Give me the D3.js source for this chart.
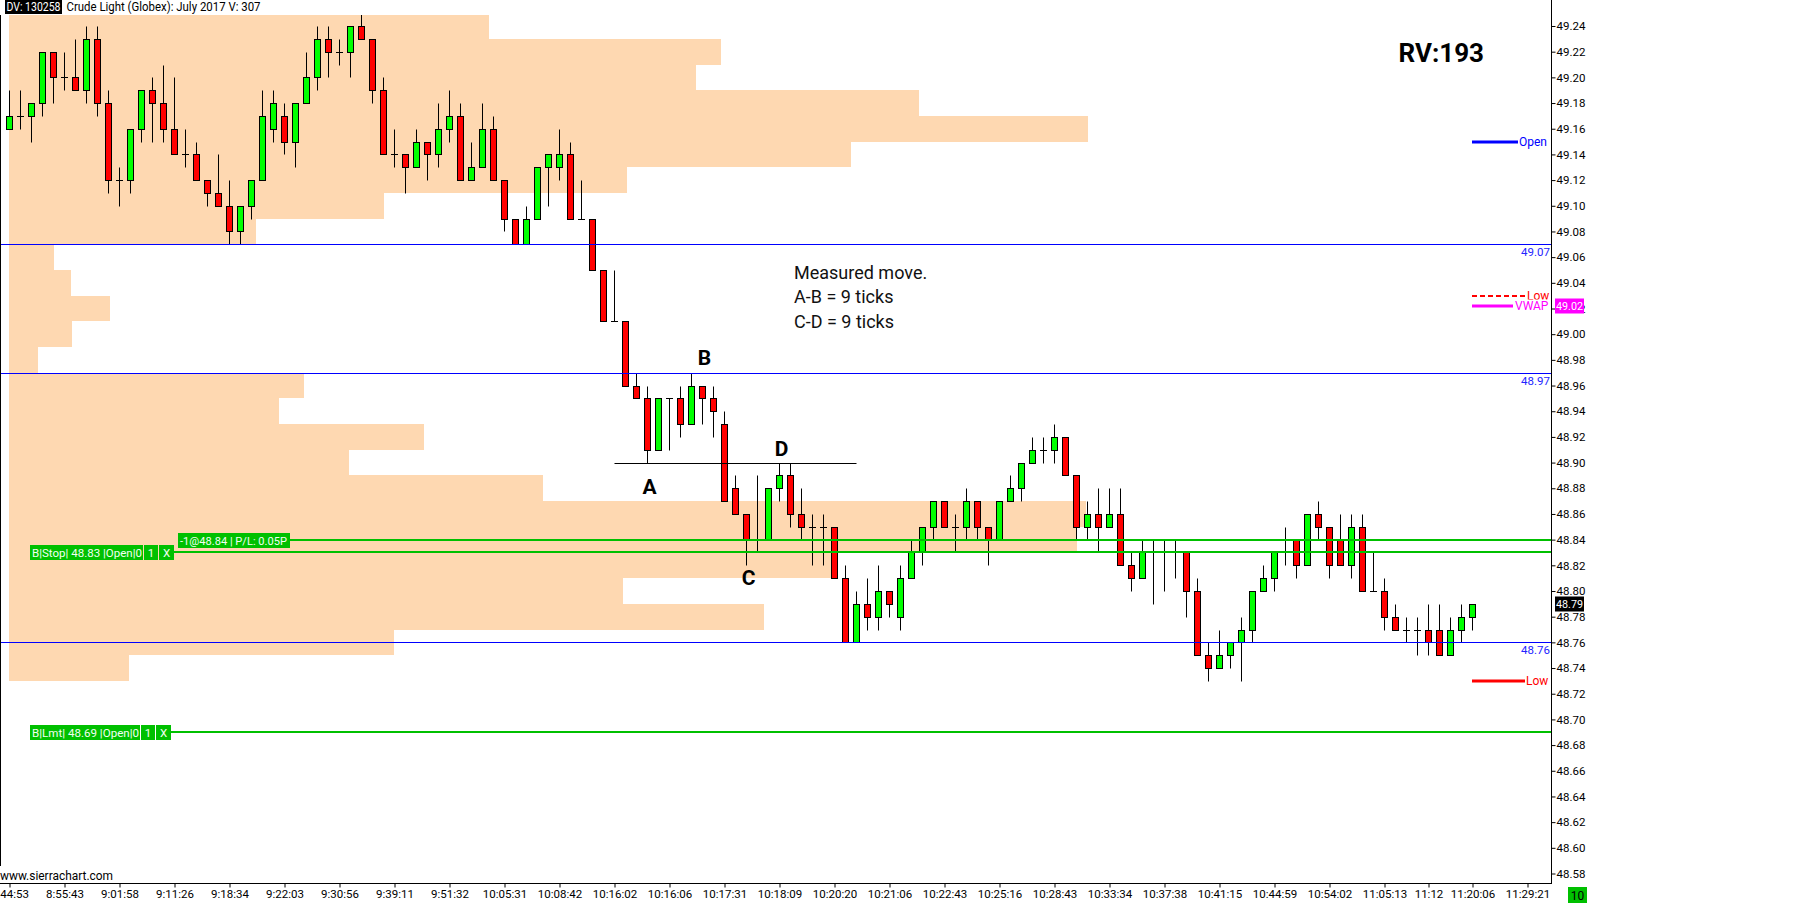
<!DOCTYPE html>
<html><head><meta charset="utf-8">
<script src="https://cdn.jsdelivr.net/npm/d3@7/dist/d3.min.js"></script>
<style>
html,body{margin:0;padding:0;background:#fff;}
svg{display:block;}
text{font-family:Roboto,"Liberation Sans",sans-serif;}
</style></head><body>
<svg id="c" width="1820" height="903"></svg>
<script>
// ---------- DATA ----------
const openP  = [49.16,49.17,49.17,49.18,49.22,49.20,49.20,49.19,49.23,49.18,49.12,49.12,49.16,49.19,49.18,49.16,49.14,49.14,49.12,49.11,
                49.10,49.08,49.10,49.12,49.16,49.17,49.15,49.18,49.20,49.23,49.22,49.22,49.24,49.23,49.19,49.14,49.14,49.13,49.15,49.14,
                49.16,49.17,49.12,49.13,49.16,49.12,49.09,49.07,49.09,49.13,49.13,49.14,49.09,49.09,49.05,49.01,49.01,48.96,48.95,48.91,
                48.95,48.95,48.93,48.96,48.95,48.93,48.88,48.86,48.84,48.84,48.88,48.89,48.86,48.85,48.85,48.85,48.81,48.76,48.79,48.78,
                48.80,48.78,48.81,48.83,48.85,48.87,48.85,48.85,48.87,48.85,48.84,48.87,48.88,48.90,48.91,48.91,48.92,48.89,48.85,48.86,
                48.85,48.86,48.82,48.81,48.83,48.83,48.83,48.83,48.80,48.75,48.74,48.75,48.76,48.77,48.80,48.81,48.84,48.84,48.82,48.86,
                48.85,48.84,48.82,48.85,48.80,48.80,48.78,48.77,48.77,48.77,48.77,48.75,48.77,48.78];
const highP  = [49.19,49.19,49.18,49.22,49.22,49.22,49.23,49.24,49.24,49.19,49.13,49.16,49.19,49.20,49.21,49.20,49.16,49.15,49.12,49.14,
                49.12,49.10,49.12,49.19,49.19,49.18,49.18,49.22,49.24,49.24,49.23,49.24,49.25,49.23,49.20,49.16,49.14,49.16,49.15,49.18,
                49.19,49.18,49.15,49.18,49.17,49.12,49.09,49.10,49.13,49.14,49.16,49.15,49.12,49.09,49.05,49.05,49.01,48.97,48.96,48.95,
                48.95,48.96,48.97,48.96,48.96,48.94,48.89,48.86,48.89,48.88,48.90,48.90,48.88,48.86,48.86,48.85,48.82,48.80,48.81,48.82,
                48.80,48.82,48.84,48.85,48.87,48.87,48.86,48.88,48.87,48.85,48.87,48.89,48.90,48.92,48.92,48.93,48.92,48.89,48.87,48.88,
                48.88,48.88,48.83,48.84,48.84,48.84,48.84,48.83,48.81,48.76,48.77,48.76,48.78,48.80,48.82,48.83,48.85,48.84,48.86,48.87,
                48.85,48.86,48.86,48.86,48.83,48.81,48.79,48.78,48.78,48.79,48.79,48.78,48.79,48.79];
const lowP   = [49.16,49.16,49.15,49.17,49.18,49.19,49.19,49.18,49.17,49.11,49.10,49.11,49.15,49.15,49.15,49.14,49.13,49.12,49.10,49.10,
                49.07,49.07,49.09,49.12,49.15,49.14,49.13,49.18,49.19,49.20,49.21,49.20,49.23,49.18,49.14,49.13,49.11,49.13,49.12,49.13,
                49.15,49.12,49.12,49.13,49.12,49.08,49.07,49.07,49.09,49.10,49.12,49.09,49.09,49.05,49.01,49.01,48.96,48.95,48.90,48.91,
                48.91,48.92,48.93,48.93,48.92,48.87,48.86,48.82,48.83,48.84,48.87,48.85,48.84,48.82,48.82,48.81,48.76,48.76,48.77,48.77,
                48.78,48.77,48.81,48.82,48.84,48.85,48.83,48.84,48.84,48.82,48.84,48.87,48.87,48.90,48.90,48.90,48.89,48.84,48.84,48.83,
                48.85,48.82,48.80,48.81,48.79,48.80,48.81,48.78,48.75,48.73,48.74,48.74,48.73,48.76,48.80,48.80,48.82,48.81,48.82,48.84,
                48.81,48.82,48.81,48.80,48.80,48.77,48.77,48.76,48.75,48.75,48.75,48.75,48.76,48.77];
const closeP = [49.17,49.17,49.18,49.22,49.20,49.20,49.19,49.23,49.18,49.12,49.12,49.16,49.19,49.18,49.16,49.14,49.14,49.12,49.11,49.10,
                49.08,49.10,49.12,49.17,49.18,49.15,49.18,49.20,49.23,49.22,49.22,49.24,49.23,49.19,49.14,49.14,49.13,49.15,49.14,49.16,
                49.17,49.12,49.13,49.16,49.12,49.09,49.07,49.09,49.13,49.14,49.14,49.09,49.09,49.05,49.01,49.01,48.96,48.95,48.91,48.95,
                48.95,48.93,48.96,48.95,48.94,48.87,48.86,48.84,48.84,48.88,48.89,48.86,48.85,48.85,48.85,48.81,48.76,48.79,48.78,48.80,
                48.79,48.81,48.83,48.85,48.87,48.85,48.85,48.87,48.85,48.84,48.87,48.88,48.90,48.91,48.91,48.92,48.89,48.85,48.86,48.85,
                48.86,48.82,48.81,48.83,48.83,48.83,48.83,48.80,48.75,48.74,48.75,48.76,48.77,48.80,48.81,48.83,48.84,48.82,48.86,48.85,
                48.82,48.82,48.85,48.80,48.80,48.78,48.77,48.77,48.77,48.76,48.75,48.77,48.78,48.79];

// volume profile (2-tick rows, centre price -> relative volume)
const profilePrice  = [49.24,49.22,49.20,49.18,49.16,49.14,49.12,49.10,49.08,49.06,49.04,49.02,49.00,48.98,
                       48.96,48.94,48.92,48.90,48.88,48.86,48.84,48.82,48.80,48.78,48.76,48.74];
const profileVolume = [480,712,687,910,1079,842,618,375,247,45,62,101,63,29,
                       295,270,415,340,534,1077,1068,822,614,755,385,120];

const timeTickBars   = [0,5,10,15,20,25,30,35,40,45,50,55,60,65,70,75,80,85,90,95,100,105,110,115,120,125,129,133,138];
const timeTickLabels = ["8:44:53","8:55:43","9:01:58","9:11:26","9:18:34","9:22:03","9:30:56","9:39:11","9:51:32","10:05:31",
                        "10:08:42","10:16:02","10:16:06","10:17:31","10:18:09","10:20:20","10:21:06","10:22:43","10:25:16","10:28:43",
                        "10:33:34","10:37:38","10:41:15","10:44:59","10:54:02","11:05:13","11:12","11:20:06","11:29:21"];
const priceTicks = [48.58,48.60,48.62,48.64,48.66,48.68,48.70,48.72,48.74,48.76,48.78,48.80,48.82,48.84,48.86,48.88,48.90,
                    48.92,48.94,48.96,48.98,49.00,49.02,49.04,49.06,49.08,49.10,49.12,49.14,49.16,49.18,49.20,49.22,49.24];

const levelLines = [49.07, 48.97, 48.76];
const measureLevel = 48.90, measureFrom = 55, measureTo = 77;
const abcd = [{t:"A",bar:58,p:48.90,dy:24},{t:"B",bar:63,p:48.97,dy:-15},{t:"C",bar:67,p:48.82,dy:12},{t:"D",bar:70,p:48.90,dy:-14}];
const noteLines = ["Measured move.","A-B = 9 ticks","C-D = 9 ticks"];

const openLevel = 49.15, vwapLevel = 49.022, priorLow = 49.03, dayLow = 48.73, lastPrice = 48.79;
const orders = [
  {p:48.84, segs:["-1@48.84 | P/L: 0.05P"], bar:15.3, w:[112], tl:[107]},
  {p:48.83, segs:["B|Stop| 48.83 |Open|0","1","X"], bar:1.9, w:[113,14,15], tl:[110,0,0]},
  {p:48.69, segs:["B|Lmt| 48.69 |Open|0","1","X"], bar:1.9, w:[110,14,15], tl:[107,0,0]}
];

// ---------- SCALES ----------
const svg = d3.select("#c");
const x = d3.scaleLinear().domain([0,138]).range([9.5,1527.5]);
const y = d3.scaleLinear().domain([48.58,49.24]).range([873.5,26.0]);
const py = p => Math.round(y(p)) + 0.5;
const volX = d3.scaleLinear().domain([0, d3.max(profileVolume)]).range([0, 1079]);
const plotR = 1551.5, plotB = 883.5, plotT = 15;

svg.append("rect").attr("width",1820).attr("height",903).attr("fill","#fff");
svg.append("defs").append("clipPath").attr("id","plot")
  .append("rect").attr("x",0).attr("y",plotT).attr("width",plotR).attr("height",plotB-plotT);
const plot = svg.append("g").attr("clip-path","url(#plot)");

// profile
plot.append("g").selectAll("rect").data(profilePrice).join("rect")
  .attr("x",9)
  .attr("y",d=>Math.round(y(d+0.01)))
  .attr("height",d=>Math.round(y(d-0.01))-Math.round(y(d+0.01)))
  .attr("width",(d,i)=>volX(profileVolume[i]))
  .attr("fill","#fed8b1");

// candles
const bars = d3.range(openP.length);
const cg = plot.append("g");
cg.selectAll("line.w").data(bars).join("line").attr("class","w")
  .attr("x1",i=>x(i)).attr("x2",i=>x(i))
  .attr("y1",i=>py(highP[i])).attr("y2",i=>py(lowP[i]))
  .attr("stroke","#000").attr("stroke-width",1);
cg.selectAll("rect").data(bars.filter(i=>openP[i]!==closeP[i])).join("rect")
  .attr("x",i=>x(i)-3).attr("width",6)
  .attr("y",i=>py(Math.max(openP[i],closeP[i])))
  .attr("height",i=>py(Math.min(openP[i],closeP[i]))-py(Math.max(openP[i],closeP[i])))
  .attr("fill",i=>closeP[i]>openP[i]?"#00ff00":"#ff0000")
  .attr("stroke","#000").attr("stroke-width",1);
cg.selectAll("line.d").data(bars.filter(i=>openP[i]===closeP[i])).join("line").attr("class","d")
  .attr("x1",i=>x(i)-3.5).attr("x2",i=>x(i)+3.5)
  .attr("y1",i=>py(openP[i])).attr("y2",i=>py(openP[i]))
  .attr("stroke","#000").attr("stroke-width",1);

// blue level lines
const lv = plot.append("g");
lv.selectAll("line").data(levelLines).join("line")
  .attr("x1",0).attr("x2",plotR).attr("y1",d=>py(d)).attr("y2",d=>py(d))
  .attr("stroke","#0000ff").attr("stroke-width",1);
lv.selectAll("text").data(levelLines).join("text")
  .attr("x",1550).attr("y",d=>py(d)+11.5).attr("text-anchor","end")
  .attr("font-size",11.5).attr("fill","#2424ff").text(d=>d.toFixed(2));

// measured move line
plot.append("line").attr("x1",x(measureFrom)).attr("x2",x(measureTo))
  .attr("y1",py(measureLevel)).attr("y2",py(measureLevel)).attr("stroke","#000").attr("stroke-width",1);

// ABCD labels
plot.selectAll("text.abcd").data(abcd).join("text").attr("class","abcd")
  .attr("x",d=>x(d.bar)+2).attr("y",d=>y(d.p)+d.dy).attr("dy","0.36em")
  .attr("text-anchor","middle").attr("font-family","'Open Sans',sans-serif")
  .attr("font-weight","bold").attr("font-size",21).attr("fill","#000").text(d=>d.t);

// note
svg.append("g").selectAll("text").data(noteLines).join("text")
  .attr("x",794).attr("y",(d,i)=>279+i*24.3)
  .attr("font-family","'Open Sans',sans-serif").attr("font-size",18).attr("fill","#111").text(d=>d);

// order lines
const og = svg.append("g");
orders.forEach(o=>{
  const yc = Math.round(y(o.p));
  let x0 = Math.round(x(o.bar));
  const total = d3.sum(o.w) + (o.w.length-1);
  og.append("line").attr("x1",x0+total).attr("x2",plotR).attr("y1",yc).attr("y2",yc)
    .attr("stroke","#00c000").attr("stroke-width",2);
  o.segs.forEach((s,k)=>{
    og.append("rect").attr("x",x0).attr("y",yc-7).attr("width",o.w[k]).attr("height",15).attr("fill","#00c000");
    const t = og.append("text").attr("x",x0+(k===0?2:o.w[k]/2)).attr("y",yc+4.5)
      .attr("text-anchor",k===0?"start":"middle").attr("font-size",11.5).attr("fill","#f2fff2").text(s);
    if (o.tl[k]) t.attr("textLength",o.tl[k]).attr("lengthAdjust","spacingAndGlyphs");
    x0 += o.w[k]+1;
  });
});

// right side markers
const rg = svg.append("g");
rg.append("line").attr("x1",1472).attr("x2",1518).attr("y1",Math.round(y(openLevel))).attr("y2",Math.round(y(openLevel)))
  .attr("stroke","#0000ff").attr("stroke-width",3);
rg.append("text").attr("x",1519).attr("y",Math.round(y(openLevel))+4).attr("font-size",12).attr("fill","#0000ff").text("Open");
rg.append("line").attr("x1",1472).attr("x2",1527).attr("y1",Math.round(y(priorLow))).attr("y2",Math.round(y(priorLow)))
  .attr("stroke","#ff0000").attr("stroke-width",2).attr("stroke-dasharray","5,3");
rg.append("text").attr("x",1527).attr("y",Math.round(y(priorLow))+4).attr("font-size",12).attr("fill","#ff0000").text("Low");
rg.append("rect").attr("x",1514).attr("y",Math.round(y(vwapLevel))-6.5).attr("width",36).attr("height",14).attr("fill","#fff");
rg.append("line").attr("x1",1472).attr("x2",1513).attr("y1",Math.round(y(vwapLevel))).attr("y2",Math.round(y(vwapLevel)))
  .attr("stroke","#ff00ff").attr("stroke-width",3);
rg.append("text").attr("x",1515).attr("y",Math.round(y(vwapLevel))+4).attr("font-size",12).attr("fill","#ff00ff").text("VWAP");
rg.append("line").attr("x1",1472).attr("x2",1525).attr("y1",Math.round(y(dayLow))).attr("y2",Math.round(y(dayLow)))
  .attr("stroke","#ff0000").attr("stroke-width",3);
rg.append("text").attr("x",1526).attr("y",Math.round(y(dayLow))+4).attr("font-size",12).attr("fill","#ff0000").text("Low");

// RV
svg.append("text").attr("x",1484).attr("y",62).attr("text-anchor","end")
  .attr("font-family","'Open Sans',sans-serif").attr("font-weight","bold").attr("font-size",26).attr("fill","#000").text("RV:193");

// axes
const yAxis = d3.axisRight(y).tickValues(priceTicks).tickFormat(d3.format(".2f")).tickSize(4).tickPadding(1);
const ya = svg.append("g").attr("transform",`translate(${plotR},0)`).call(yAxis);
ya.select(".domain").remove();
ya.selectAll("text").attr("font-size",11.5).attr("font-family","Roboto,sans-serif").attr("fill","#000");
ya.selectAll("line").attr("stroke","#000");

const xAxis = d3.axisBottom(x).tickValues(timeTickBars).tickFormat((d,i)=>timeTickLabels[i]).tickSize(4).tickPadding(2);
const xa = svg.append("g").attr("transform",`translate(0,${plotB})`).call(xAxis);
xa.select(".domain").remove();
xa.selectAll("text").attr("font-size",11.5).attr("font-family","Roboto,sans-serif").attr("fill","#000");
xa.selectAll("line").attr("stroke","#000");

// frame lines
svg.append("line").attr("x1",plotR).attr("x2",plotR).attr("y1",0).attr("y2",plotB).attr("stroke","#000");
svg.append("line").attr("x1",0).attr("x2",plotR+0.5).attr("y1",plotB).attr("y2",plotB).attr("stroke","#000");
svg.append("line").attr("x1",0.5).attr("x2",0.5).attr("y1",plotT).attr("y2",866).attr("stroke","#000");

// axis value boxes
function axisBox(p, fill, txt, color){
  const yc = Math.round(y(p));
  svg.append("rect").attr("x",1555).attr("y",yc-7.5).attr("width",29).attr("height",15).attr("fill",fill);
  svg.append("text").attr("x",1556).attr("y",yc+4).attr("font-size",11.5).attr("fill",color)
    .attr("textLength",27).attr("lengthAdjust","spacingAndGlyphs").text(txt);
}
axisBox(vwapLevel,"#ff00ff",vwapLevel.toFixed(2),"#fff");
axisBox(lastPrice,"#000",lastPrice.toFixed(2),"#fff");
svg.append("rect").attr("x",1568).attr("y",887).attr("width",19).attr("height",16).attr("fill","#00c000");
svg.append("text").attr("x",1577.5).attr("y",899.5).attr("text-anchor","middle").attr("font-size",12).attr("fill","#000").text("10");

// header
svg.append("rect").attr("x",5).attr("y",0).attr("width",57).attr("height",14).attr("fill","#000");
svg.append("text").attr("x",6.5).attr("y",11).attr("font-size",12.5).attr("fill","#fff")
  .attr("textLength",54).attr("lengthAdjust","spacingAndGlyphs").text("DV: 130258");
svg.append("text").attr("x",66.5).attr("y",11).attr("font-size",12.5).attr("fill","#000")
  .attr("textLength",194).attr("lengthAdjust","spacingAndGlyphs").text("Crude Light (Globex): July 2017 V: 307");
svg.append("text").attr("x",0).attr("y",880).attr("font-size",12).attr("fill","#000")
  .attr("textLength",113).attr("lengthAdjust","spacingAndGlyphs").text("www.sierrachart.com");
</script>
</body></html>
